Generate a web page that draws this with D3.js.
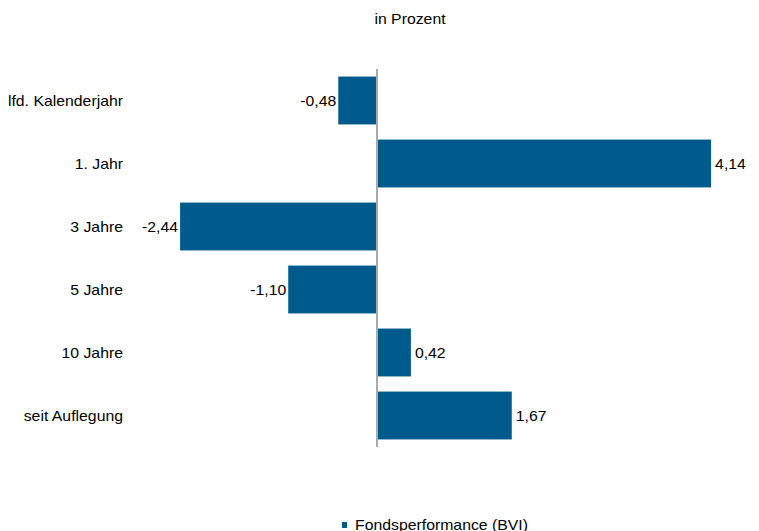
<!DOCTYPE html>
<html>
<head>
<meta charset="utf-8">
<script src="https://cdn.jsdelivr.net/npm/d3@7"></script>
<style>
html,body{margin:0;padding:0;background:#fff;}
text{font-family:"Liberation Sans",Arial,Helvetica,sans-serif;fill:#000;}
</style>
</head>
<body>
<svg id="chart" width="759" height="531"></svg>
<script>
const categories = ["lfd. Kalenderjahr", "1. Jahr", "3 Jahre", "5 Jahre", "10 Jahre", "seit Auflegung"];
const values = [-0.48, 4.14, -2.44, -1.10, 0.42, 1.67];
const valueLabels = ["-0,48", "4,14", "-2,44", "-1,10", "0,42", "1,67"];
const seriesName = "Fondsperformance (BVI)";
const title = "in Prozent";

const svg = d3.select("#chart");
const SX = 1.13;
const fs = 14;
const color = "#005a8c";

const zeroX = 377;
const pxPerUnit = 80.7;
const x = d3.scaleLinear().domain([0, 1]).range([zeroX, zeroX + pxPerUnit]);
const y = d3.scaleBand().domain(categories).range([69, 447]).paddingInner(0.24).paddingOuter(0.12);

function stretchedText(g, tx, ty, str, anchor) {
  return g.append("text")
    .attr("transform", `translate(${tx},${ty}) scale(${SX},1)`)
    .attr("text-anchor", anchor)
    .attr("font-size", fs)
    .text(str);
}

// bars
svg.append("g").selectAll("rect").data(values).join("rect")
  .attr("x", d => Math.min(x(0), x(d)))
  .attr("width", d => Math.abs(x(d) - x(0)))
  .attr("y", (d, i) => y(categories[i]))
  .attr("height", y.bandwidth())
  .attr("fill", color);

// zero axis line
svg.append("line")
  .attr("x1", x(0)).attr("x2", x(0))
  .attr("y1", 69).attr("y2", 447)
  .attr("stroke", "#aaaaaa").attr("stroke-width", 2);

// category labels
const lg = svg.append("g");
categories.forEach((c, i) => {
  stretchedText(lg, 123, y(c) + y.bandwidth() / 2 + 5, c, "end");
});

// value labels
const vg = svg.append("g");
values.forEach((v, i) => {
  const cy = y(categories[i]) + y.bandwidth() / 2 + 5;
  if (v < 0) stretchedText(vg, x(v) - 2, cy, valueLabels[i], "end");
  else stretchedText(vg, x(v) + 4, cy, valueLabels[i], "start");
});

// title
stretchedText(svg, 410, 24, title, "middle");

// legend
svg.append("rect").attr("x", 342).attr("y", 522).attr("width", 5).attr("height", 6).attr("fill", color);
stretchedText(svg, 355, 530, seriesName, "start");
</script>
</body>
</html>
